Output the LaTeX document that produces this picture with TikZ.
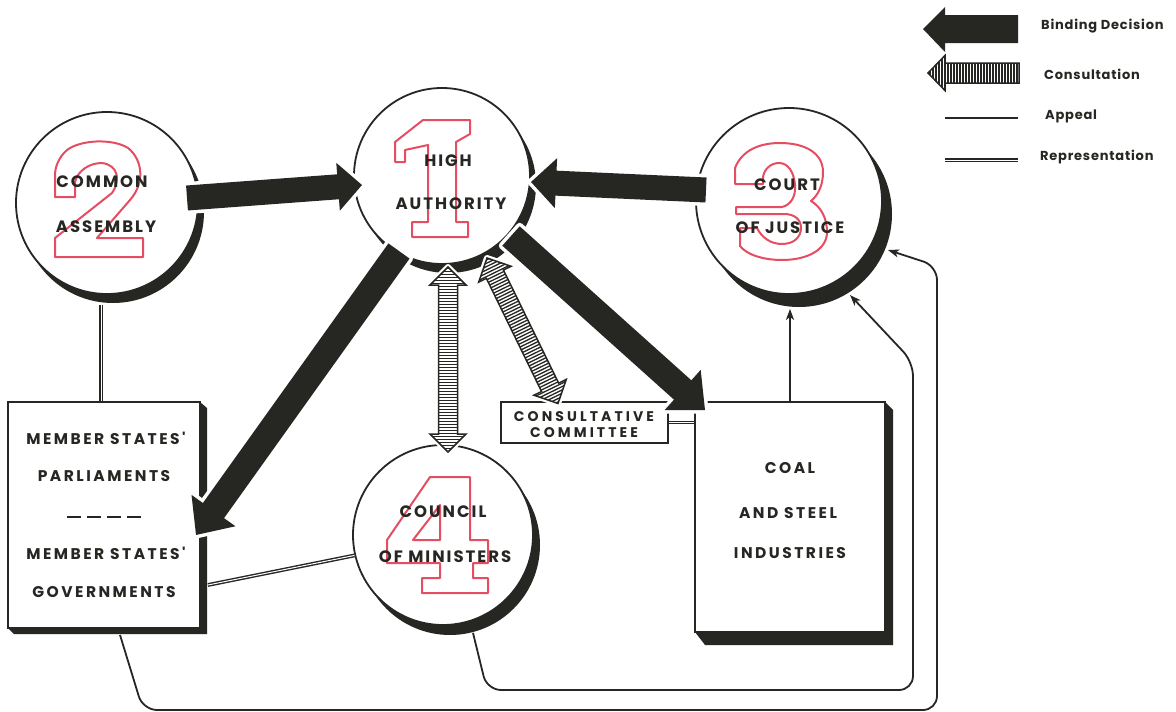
\documentclass[tikz,border=0pt]{standalone}
\usepackage{fontspec}
\newfontfamily\lab[LetterSpace=16]{Poppins}
\newfontfamily\labA[LetterSpace=12]{Poppins}
\newfontfamily\labC[LetterSpace=22]{Poppins}
\newfontfamily\legf[LetterSpace=6]{Poppins}
\usetikzlibrary{calc,arrows.meta}
\definecolor{ink}{RGB}{38,38,34}
\definecolor{numred}{RGB}{229,77,98}

\newcommand\getdir[2]{\path let \p1=(#1), \p2=(#2), \n1={atan2(\y2-\y1,\x2-\x1)}, \n2={veclen(\x2-\x1,\y2-\y1)} in \pgfextra{\xdef\dang{\n1}\xdef\dlen{\n2}};}

% binding-decision block arrow: #1 from, #2 to, #3 shaft half width, #4 head half width, #5 head length
\newcommand\bindarrow[5]{%
  \getdir{#1}{#2}%
  \begin{scope}[shift={(#1)}, rotate=\dang, x=1pt, y=1pt]
    \draw[white, line width=7pt, line join=round] (0,-#3) -- ({\dlen-#5},-#3) -- ({\dlen-#5},-#4) -- (\dlen,0) -- ({\dlen-#5},#4) -- ({\dlen-#5},#3) -- (0,#3) -- cycle;
    \fill[ink] (0,-#3) -- ({\dlen-#5},-#3) -- ({\dlen-#5},-#4) -- (\dlen,0) -- ({\dlen-#5},#4) -- ({\dlen-#5},#3) -- (0,#3) -- cycle;
  \end{scope}}

% consultation hatched double arrow
\newcommand\consarrow[2]{%
  \getdir{#1}{#2}%
  \begin{scope}[shift={(#1)}, rotate=\dang, x=1pt, y=1pt]
    \draw[white, fill=white, line width=6pt, line join=round] (0,0) -- (18,18) -- (18,9.5) -- ({\dlen-18},9.5) -- ({\dlen-18},18) -- (\dlen,0) -- ({\dlen-18},-18) -- ({\dlen-18},-9.5) -- (18,-9.5) -- (18,-18) -- cycle;
    \begin{scope}
      \clip (0,0) -- (18,18) -- (18,9.5) -- ({\dlen-18},9.5) -- ({\dlen-18},18) -- (\dlen,0) -- ({\dlen-18},-18) -- ({\dlen-18},-9.5) -- (18,-9.5) -- (18,-18) -- cycle;
      \foreach \t in {1.5,4.5,...,\dlen} \draw[ink, line width=1.3pt] (\t,-20) -- (\t,20);
    \end{scope}
    \draw[ink, line width=1.5pt, line join=miter] (0,0) -- (18,18) -- (18,9.5) -- ({\dlen-18},9.5) -- ({\dlen-18},18) -- (\dlen,0) -- ({\dlen-18},-18) -- ({\dlen-18},-9.5) -- (18,-9.5) -- (18,-18) -- cycle;
  \end{scope}}

\begin{document}
\begin{tikzpicture}[x=1pt, y=-1pt,
  circ/.style={circle, draw=ink, line width=1.8pt, fill=white, minimum size=#1, inner sep=0pt},
  box/.style={rectangle, draw=ink, line width=1.8pt, fill=white, inner sep=0pt},
  ctext/.style={font=\labA\bfseries\fontsize{16.5}{16.5}\selectfont, text=ink, inner sep=0pt, text height=11.5pt, text depth=0pt},
  btext/.style={font=\lab\bfseries\fontsize{15.5}{15.5}\selectfont, text=ink, inner sep=0pt, text height=11pt, text depth=0pt},
  smtext/.style={font=\labC\bfseries\fontsize{14}{14}\selectfont, text=ink, inner sep=0pt, text height=10pt, text depth=0pt},
  legtext/.style={font=\legf\bfseries\fontsize{13}{13}\selectfont, text=ink, inner sep=0pt, anchor=west},
  digit/.style={draw=numred, line width=2pt, line join=round},
  rep/.style={draw=ink, line width=1.4pt, double=white, double distance=1pt},
  appeal/.style={draw=ink, line width=1.8pt, rounded corners=14pt},
  appealtip/.style={-{Stealth[length=11pt, width=8pt, inset=3pt]}}
]
\useasboundingbox (0,0) rectangle (1176,712);
\fill[white] (0,0) rectangle (1176,712);

% ---------- centres ----------
\coordinate (caC) at (107,203);
\coordinate (haC) at (442,176);
\coordinate (coC) at (789,201);
\coordinate (cmC) at (443,535);

% ---------- circles with shadows ----------
\fill[ink] ($(caC)+(6,9)$) circle[radius=91pt];
\node[circ=182pt] (ca) at (caC) {};
\fill[ink] ($(haC)+(6,9)$) circle[radius=88pt];
\node[circ=176pt] (ha) at (haC) {};
\fill[ink] ($(coC)+(10,13)$) circle[radius=93pt];
\node[circ=186pt] (co) at (coC) {};
\fill[ink] ($(cmC)+(7,10)$) circle[radius=90pt];
\node[circ=180pt] (cm) at (cmC) {};

% ---------- boxes with shadows ----------
\fill[ink] (8,628) -- (14,634) -- (207,634) -- (207,408) -- (200,402) -- cycle;
\node[box, minimum width=192pt, minimum height=226pt] (ms) at (104,515) {};
\fill[ink] (695,632) -- (705,645) -- (893,645) -- (893,410) -- (885,402) -- cycle;
\node[box, minimum width=190pt, minimum height=230pt] (cs) at (790,517) {};
\node[box, line width=1.6pt, minimum width=167pt, minimum height=41pt] (cc) at (584.5,422.5) {};

% ---------- red numerals ----------
% 1
\draw[digit] (412,237) -- (468,237) -- (468,222) -- (456,222) -- (456,142) -- (470,134) -- (470,120) -- (423,120) -- (395,142) -- (395,162) -- (405,162) -- (405,150) -- (428,145) -- (428,222) -- (412,222) -- cycle;
% 2
\draw[digit] (55,257) -- (143,257) -- (143,238) -- (97,238) -- (130,200) .. controls (145,183) and (143,160) .. (128,148) .. controls (112,138) and (80,140) .. (67,150) .. controls (58,158) and (55,168) .. (55,175) -- (55,197) -- (75,197) -- (75,182) .. controls (78,170) and (90,163) .. (102,163) .. controls (118,165) and (121,180) .. (112,193) -- (55,238) -- cycle;
% 3
\draw[digit] (735,184) -- (735,168) .. controls (742,150) and (760,143) .. (780,143) .. controls (805,143) and (823,153) .. (823,172) .. controls (823,187) and (817,196) .. (811,201) .. controls (821,207) and (827,218) .. (827,232) .. controls (827,250) and (807,260) .. (782,260) .. controls (762,260) and (746,254) .. (740,246) -- (740,228) -- (757,228) .. controls (762,238) and (771,244) .. (782,244) .. controls (795,244) and (801,236) .. (801,228) .. controls (801,219) and (794,214) .. (784,214) -- (736,214) -- (736,207) -- (782,207) .. controls (791,205) and (796,196) .. (795,185) .. controls (794,172) and (788,163) .. (779,163) .. controls (770,163) and (764,170) .. (763,177) -- (763,184) -- cycle;
% 4
\draw[digit] (430,477) -- (470,477) -- (470,540) -- (488,540) -- (488,563) -- (473,563) -- (473,578) -- (488,578) -- (488,593) -- (422,593) -- (422,578) -- (440,578) -- (440,563) -- (387,563) -- (387,540) -- cycle;
\draw[digit] (413,540) -- (440,540) -- (440,505) -- cycle;

% ---------- texts ----------
\node[ctext] (ha1) at (448,161) {HIGH};
\node[ctext] (ha2) at (451,204) {AUTHORITY};
\node[ctext] (ca1) at (102,182) {COMMON};
\node[ctext] (ca2) at (106,227) {ASSEMBLY};
\node[ctext] (co1) at (787,185) {COURT};
\node[ctext] (co2) at (790,228) {OF JUSTICE};
\node[ctext] (cm1) at (443,512) {COUNCIL};
\node[ctext] (cm2) at (445,557) {OF MINISTERS};

\node[btext] (ms1) at (106,439) {MEMBER STATES'};
\node[btext] (ms2) at (104,476) {PARLIAMENTS};
\draw[ink, line width=2.6pt, dash pattern=on 14pt off 6pt] ($(ms.center)+(-37,2)$) -- ($(ms.center)+(40,2)$);
\node[btext] (ms3) at (106,554) {MEMBER STATES'};
\node[btext] (ms4) at (104,592) {GOVERNMENTS};

\node[btext] (cs1) at (790,468) {COAL};
\node[btext] (cs2) at (788,513) {AND STEEL};
\node[btext] (cs3) at (790,553) {INDUSTRIES};

\node[smtext] (cc1) at (584,416) {CONSULTATIVE};
\node[smtext] (cc2) at (584,432) {COMMITTEE};

% ---------- representation ----------
\draw[rep] ($(ca.south)+(-6,10)$) -- ($(ms.north)+(-3,0)$);
\draw[rep] ($(ms.east)+(7,70)$) -- (cm.193);
\draw[rep] (cc.east) -- (cs.west |- cc.east);

% ---------- appeal ----------
\draw[ink, line width=1.8pt, appealtip] (cs.north) -- ($(co.south)+(1,14)$);
\coordinate (inS) at ($(cm.south)+(30,7)$);
\coordinate (inE) at (850,295);
\draw[appeal, appealtip] (inS) -- (487,690) -- (913,690) -- (913,362) -- (inE);
\coordinate (outS) at ($(ms.south)+(16,6)$);
\coordinate (outE) at (888,250);
\draw[appeal, appealtip] (outS) -- (143,710) -- (937,710) -- (937,266) -- (outE);

% ---------- binding decisions ----------
\coordinate (b1s) at ($(ca)+(80,-5)$);  \coordinate (b1e) at ($(ha)+(-80,9)$);
\coordinate (b2s) at ($(co)+(-83,-11)$); \coordinate (b2e) at ($(ha)+(89,6)$);
\coordinate (b3s) at ($(ha)+(-43,75)$); \coordinate (b3e) at ($(ms)+(92,20)$);
\coordinate (b4s) at ($(ha)+(69,60)$);  \coordinate (b4e) at ($(cs)+(-85,-107)$);
\bindarrow{b1s}{b1e}{12.5}{24}{24}
\bindarrow{b2s}{b2e}{12.5}{25}{25}
\bindarrow{b3s}{b3e}{13}{27}{30}
\bindarrow{b4s}{b4e}{13}{27}{30}

% ---------- consultations ----------
\coordinate (c1s) at ($(ha)+(6,91)$);   \coordinate (c1e) at ($(cm)+(5,-83)$);
\coordinate (c2s) at ($(ha)+(45,82)$);  \coordinate (c2e) at ($(cc)+(-26.5,-19)$);
\consarrow{c1s}{c1e}
\consarrow{c2s}{c2e}

% ---------- legend ----------
\fill[ink] (1018,15) -- (945,15) -- (945,7) -- (923,29) -- (945,52) -- (945,43) -- (1018,43) -- cycle;
\begin{scope}
  \clip (1019,63) -- (945,63) -- (945,55.5) -- (928,73) -- (945,90.5) -- (945,83) -- (1019,83) -- cycle;
  \foreach \t in {930,933,...,1019} \draw[ink, line width=1.2pt] (\t,50) -- (\t,95);
\end{scope}
\draw[ink, line width=1.5pt, line join=miter] (1019,63) -- (945,63) -- (945,55.5) -- (928,73) -- (945,90.5) -- (945,83) -- (1019,83) -- cycle;
\draw[ink, line width=2pt] (945,118) -- (1018,118);
\draw[rep] (945,160) -- (1018,160);
\node[legtext] (l1) at (1041,26) {Binding Decision};
\node[legtext] (l2) at (1044,74) {Consultation};
\node[legtext] (l3) at (1045,116) {Appeal};
\node[legtext] (l4) at (1040,157) {Representation};
\end{tikzpicture}
\end{document}
